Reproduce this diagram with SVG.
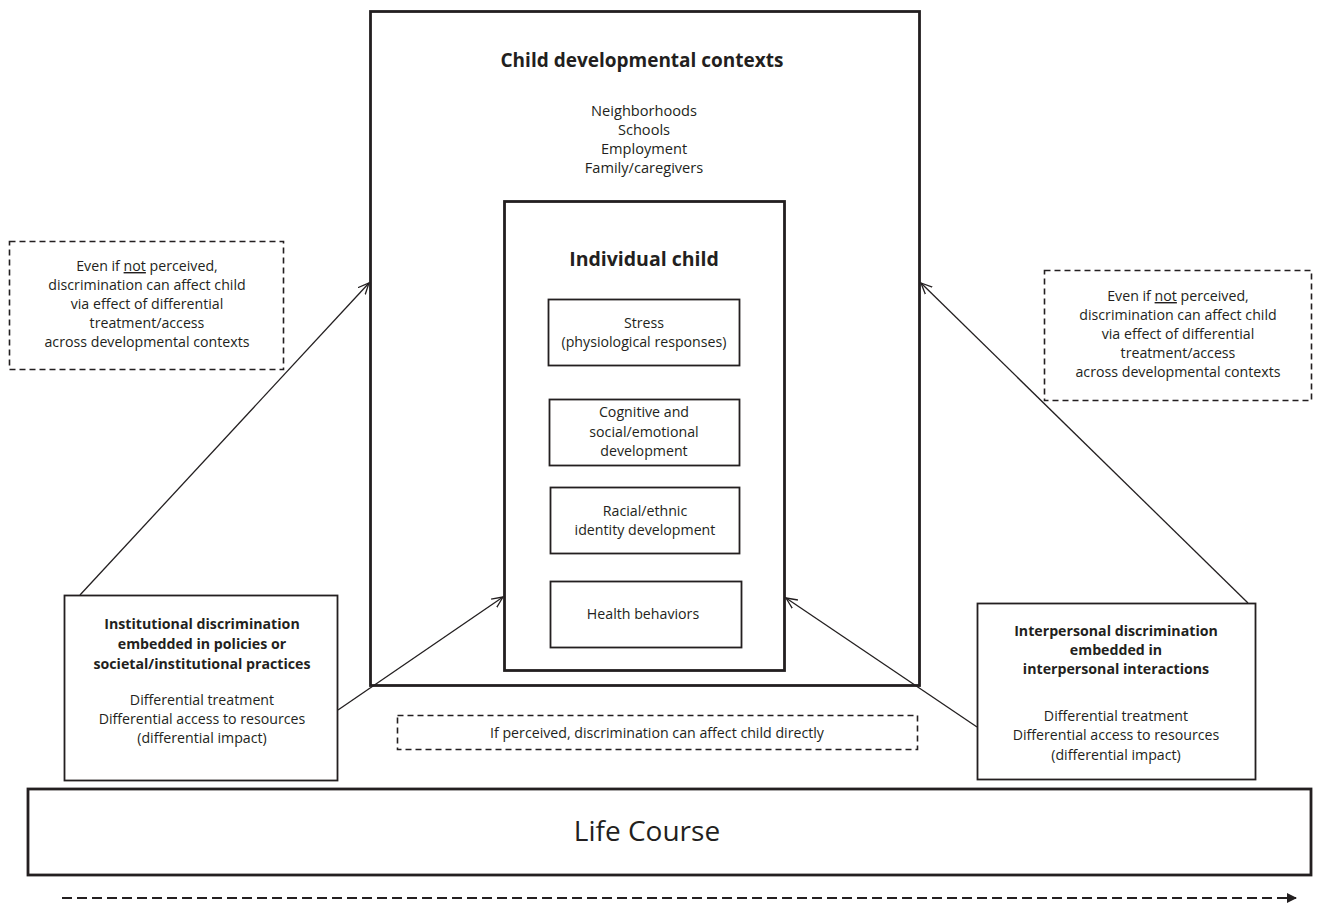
<svg xmlns="http://www.w3.org/2000/svg" width="1322" height="905" viewBox="0 0 1322 905">
<style>
text{font-family:"Open Sans","Liberation Sans",sans-serif;fill:#231f20;text-anchor:middle}
.b{font-weight:bold}
.box{fill:#fff;stroke:#231f20;stroke-width:1.8}
.thick{fill:#fff;stroke:#231f20;stroke-width:2.8}
.dash{fill:none;stroke:#231f20;stroke-width:1.6;stroke-dasharray:6 4}
.con{stroke:#231f20;stroke-width:1.3;fill:none;marker-end:url(#ah)}
.t13{font-size:14.2px}
.t14{font-size:14.6px}
</style>
<defs>
<marker id="ah" viewBox="0 0 12 12" refX="11" refY="6" markerWidth="12" markerHeight="12" markerUnits="userSpaceOnUse" orient="auto">
<path d="M0,1 L11,6 L0,11" fill="none" stroke="#231f20" stroke-width="1.3"/>
</marker>
<marker id="ah2" viewBox="0 0 10 10" refX="9" refY="5" markerWidth="10" markerHeight="10" markerUnits="userSpaceOnUse" orient="auto">
<path d="M0,0 L10,5 L0,10 Z" fill="#231f20"/>
</marker>
</defs>

<g id="life-course">
<rect class="thick" x="28" y="789" width="1283" height="86" stroke-width="3.5"/>
<text x="647" y="841" style="font-size:28px">Life Course</text>
</g>

<g id="contexts">
<rect class="thick" x="370.5" y="11.5" width="549" height="674"/>
<text class="b" x="642" y="67" style="font-size:19px">Child developmental contexts</text>
<text class="t14" x="644" y="116">Neighborhoods</text>
<text class="t14" x="644" y="135">Schools</text>
<text class="t14" x="644" y="154">Employment</text>
<text class="t14" x="644" y="173">Family/caregivers</text>
</g>

<g id="individual">
<rect class="thick" x="504.5" y="201.5" width="280" height="469"/>
<text class="b" x="644" y="266" style="font-size:19.5px">Individual child</text>
</g>

<g id="stress">
<rect class="box" x="548.5" y="299.5" width="191" height="66"/>
<text class="t13" x="644" y="328">Stress</text>
<text class="t13" x="644" y="347">(physiological responses)</text>
</g>

<g id="cognitive">
<rect class="box" x="549.5" y="399.5" width="190" height="66"/>
<text class="t13" x="644" y="417">Cognitive and</text>
<text class="t13" x="644" y="437">social/emotional</text>
<text class="t13" x="644" y="456">development</text>
</g>

<g id="racial">
<rect class="box" x="550.5" y="487.5" width="189" height="66"/>
<text class="t13" x="645" y="516">Racial/ethnic</text>
<text class="t13" x="645" y="535">identity development</text>
</g>

<g id="health">
<rect class="box" x="550.5" y="581.5" width="191" height="66"/>
<text class="t13" x="643" y="619">Health behaviors</text>
</g>

<g id="note-left">
<rect class="dash" x="9.5" y="241.5" width="274" height="128"/>
<text class="t13" x="147" y="271">Even if <tspan text-decoration="underline">not</tspan> perceived,</text>
<text class="t13" x="147" y="290">discrimination can affect child</text>
<text class="t13" x="147" y="309">via effect of differential</text>
<text class="t13" x="147" y="328">treatment/access</text>
<text class="t13" x="147" y="347">across developmental contexts</text>
</g>

<g id="note-right">
<rect class="dash" x="1044.5" y="270.5" width="267" height="130"/>
<text class="t13" x="1178" y="301">Even if <tspan text-decoration="underline">not</tspan> perceived,</text>
<text class="t13" x="1178" y="320">discrimination can affect child</text>
<text class="t13" x="1178" y="339">via effect of differential</text>
<text class="t13" x="1178" y="358">treatment/access</text>
<text class="t13" x="1178" y="377">across developmental contexts</text>
</g>

<g id="note-bottom">
<rect class="dash" x="397.5" y="715.5" width="520" height="34"/>
<text class="t13" x="657" y="738">If perceived, discrimination can affect child directly</text>
</g>

<g id="institutional">
<rect class="box" x="64.5" y="595.5" width="273" height="185"/>
<text class="b t13" x="202" y="629">Institutional discrimination</text>
<text class="b t13" x="202" y="649">embedded in policies or</text>
<text class="b t13" x="202" y="669">societal/institutional practices</text>
<text class="t13" x="202" y="705">Differential treatment</text>
<text class="t13" x="202" y="724">Differential access to resources</text>
<text class="t13" x="202" y="743">(differential impact)</text>
</g>

<g id="interpersonal">
<rect class="box" x="977.5" y="603.5" width="278" height="176"/>
<text class="b t13" x="1116" y="636">Interpersonal discrimination</text>
<text class="b t13" x="1116" y="655">embedded in</text>
<text class="b t13" x="1116" y="674">interpersonal interactions</text>
<text class="t13" x="1116" y="721">Differential treatment</text>
<text class="t13" x="1116" y="740">Differential access to resources</text>
<text class="t13" x="1116" y="760">(differential impact)</text>
</g>

<g id="connectors">
<line class="con" x1="80" y1="595" x2="369" y2="283"/>
<line class="con" x1="338" y1="710" x2="503" y2="597"/>
<line class="con" x1="977" y1="727" x2="786" y2="598"/>
<line class="con" x1="1248" y1="603" x2="921" y2="283"/>
<line x1="62" y1="898" x2="1296" y2="898" stroke="#231f20" stroke-width="2" stroke-dasharray="10 5" marker-end="url(#ah2)"/>
</g>
</svg>
